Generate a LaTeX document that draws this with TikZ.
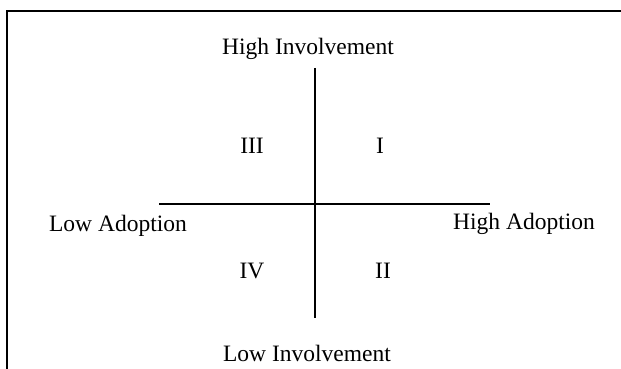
\documentclass[tikz,border=0pt]{standalone}
\usepackage{fontspec}
\setmainfont{Liberation Serif}
\begin{document}
\begin{tikzpicture}[x=1pt,y=-1pt,
  lbl/.style={font=\fontsize{23.5}{26}\selectfont, inner sep=0pt, anchor=base},
  axis/.style={line width=2.4pt, black},
  frame/.style={line width=2pt, black}]
\useasboundingbox (0,0) rectangle (621,369);
% frame (top and left edges only)
\coordinate (fb) at (7,369);
\coordinate (fc) at (7,11);
\coordinate (fr) at (621,11);
\draw[frame] (fb) -- (fc) -- (fr);
% axes
\coordinate (L) at (159,204);
\coordinate (R) at (490,204);
\coordinate (T) at (315,68);
\coordinate (B) at (315,318);
\draw[axis] (L) -- (R);
\draw[axis] (T) -- (B);
% labels
\node[lbl] (hi) at (308,55) {High Involvement};
\node[lbl] (lo) at (307,361) {Low Involvement};
\node[lbl] (la) at (118,231) {Low Adoption};
\node[lbl] (ha) at (524,229) {High Adoption};
\node[lbl] (q3) at (252,153) {III};
\node[lbl] (q1) at (380,153) {I};
\node[lbl] (q4) at (252,278) {IV};
\node[lbl] (q2) at (383,278) {II};
\end{tikzpicture}
\end{document}
